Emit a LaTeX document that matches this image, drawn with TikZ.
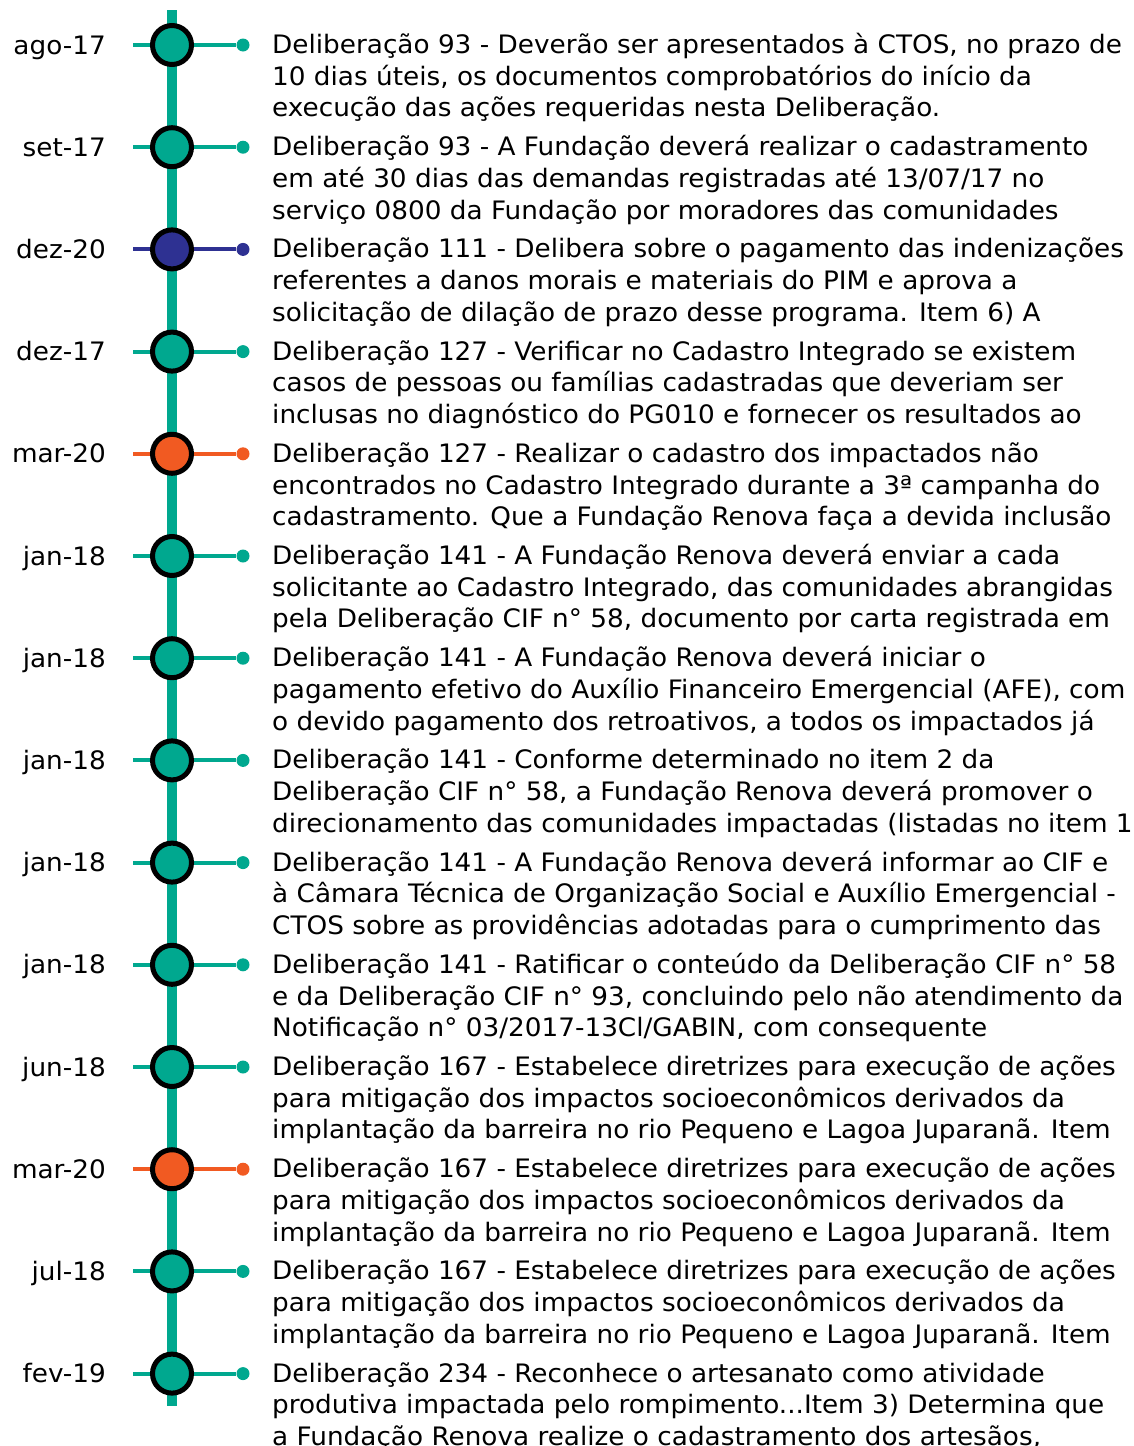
\documentclass[tikz,border=0pt]{standalone}
\usepackage{fontspec}
\setmainfont{DejaVu Sans}[FakeStretch=1.035]
\definecolor{tlteal}{HTML}{00A88F}
\definecolor{tlnavy}{HTML}{2E3192}
\definecolor{tlorange}{HTML}{F15A22}
\tikzset{
  spine/.style={draw=tlteal, line width=9.5pt},
  stem/.style={line width=4pt},
  bigdot/.style={circle, draw=black, line width=5pt, minimum size=39pt, inner sep=0pt},
  smalldot/.style={circle, minimum size=13pt, inner sep=0pt},
  datelbl/.style={anchor=base east, inner sep=0pt, font=\fontsize{25.4}{31.7}\selectfont},
  desc/.style={anchor=base west, inner sep=0pt, align=left, font=\fontsize{25.4}{31.7}\selectfont},
}
\newcommand{\tlentry}[6]{%
  \coordinate (s#1) at (133,{45+102.2*#1});
  \node[smalldot, fill=#3] (d#1) at (243,{45+102.2*#1}) {};
  \draw[stem, draw=#3] (s#1) -- (d#1);
  \node[bigdot, fill=#3] (c#1) at (172,{45+102.2*#1}) {};
  \node[datelbl] (l#1) at (106,{54+102.2*#1}) {#2};
  \node[desc] (t#1) at (272,{116.9+102.2*#1}) {#4\\#5\\#6};
}
\begin{document}
\begin{tikzpicture}[x=1pt,y=-1pt]
\useasboundingbox[fill=white] (0,0) rectangle (1133,1446);
\coordinate (top) at (172,10);
\coordinate (bot) at (172,1406);
\draw[spine] (top) -- (bot);
\tlentry{0}{ago-17}{tlteal}{Deliberação 93 - Deverão ser apresentados à CTOS, no prazo de}{10 dias úteis, os documentos comprobatórios do início da}{execução das ações requeridas nesta Deliberação.}
\tlentry{1}{set-17}{tlteal}{Deliberação 93 - A Fundação deverá realizar o cadastramento}{em até 30 dias das demandas registradas até 13/07/17 no}{serviço 0800 da Fundação por moradores das comunidades}
\tlentry{2}{dez-20}{tlnavy}{Deliberação 111 - Delibera sobre o pagamento das indenizações}{referentes a danos morais e materiais do PIM e aprova a}{solicitação de dilação de prazo desse programa. Item 6) A}
\tlentry{3}{dez-17}{tlteal}{Deliberação 127 - Verificar no Cadastro Integrado se existem}{casos de pessoas ou famílias cadastradas que deveriam ser}{inclusas no diagnóstico do PG010 e fornecer os resultados ao}
\tlentry{4}{mar-20}{tlorange}{Deliberação 127 - Realizar o cadastro dos impactados não}{encontrados no Cadastro Integrado durante a 3ª campanha do}{cadastramento. Que a Fundação Renova faça a devida inclusão}
\tlentry{5}{jan-18}{tlteal}{Deliberação 141 - A Fundação Renova deverá enviar a cada}{solicitante ao Cadastro Integrado, das comunidades abrangidas}{pela Deliberação CIF n° 58, documento por carta registrada em}
\tlentry{6}{jan-18}{tlteal}{Deliberação 141 - A Fundação Renova deverá iniciar o}{pagamento efetivo do Auxílio Financeiro Emergencial (AFE), com}{o devido pagamento dos retroativos, a todos os impactados já}
\tlentry{7}{jan-18}{tlteal}{Deliberação 141 - Conforme determinado no item 2 da}{Deliberação CIF n° 58, a Fundação Renova deverá promover o}{direcionamento das comunidades impactadas (listadas no item 1}
\tlentry{8}{jan-18}{tlteal}{Deliberação 141 - A Fundação Renova deverá informar ao CIF e}{à Câmara Técnica de Organização Social e Auxílio Emergencial -}{CTOS sobre as providências adotadas para o cumprimento das}
\tlentry{9}{jan-18}{tlteal}{Deliberação 141 - Ratificar o conteúdo da Deliberação CIF n° 58}{e da Deliberação CIF n° 93, concluindo pelo não atendimento da}{Notificação n° 03/2017-13Cl/GABIN, com consequente}
\tlentry{10}{jun-18}{tlteal}{Deliberação 167 - Estabelece diretrizes para execução de ações}{para mitigação dos impactos socioeconômicos derivados da}{implantação da barreira no rio Pequeno e Lagoa Juparanã. Item}
\tlentry{11}{mar-20}{tlorange}{Deliberação 167 - Estabelece diretrizes para execução de ações}{para mitigação dos impactos socioeconômicos derivados da}{implantação da barreira no rio Pequeno e Lagoa Juparanã. Item}
\tlentry{12}{jul-18}{tlteal}{Deliberação 167 - Estabelece diretrizes para execução de ações}{para mitigação dos impactos socioeconômicos derivados da}{implantação da barreira no rio Pequeno e Lagoa Juparanã. Item}
\tlentry{13}{fev-19}{tlteal}{Deliberação 234 - Reconhece o artesanato como atividade}{produtiva impactada pelo rompimento...Item 3) Determina que}{a Fundação Renova realize o cadastramento dos artesãos,}
\end{tikzpicture}
\end{document}
